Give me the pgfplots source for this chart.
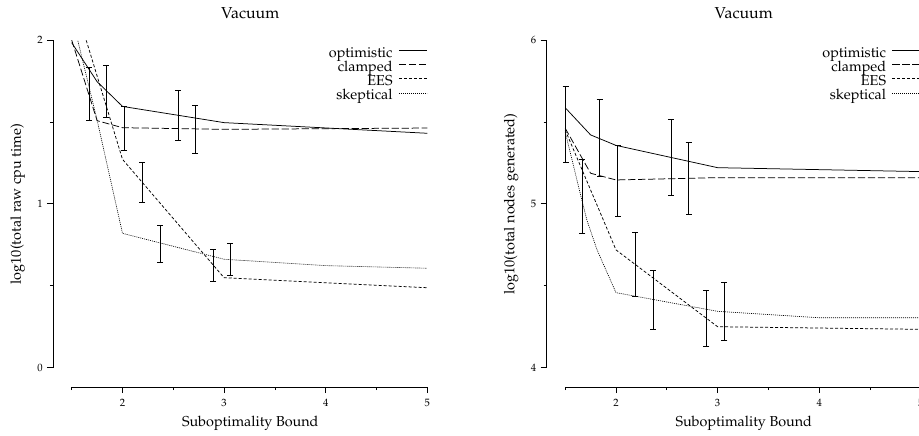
\documentclass[border=0pt]{standalone}
\usepackage[T1]{fontenc}
\usepackage{mathpazo}
\usepackage{pgfplots}
\pgfplotsset{compat=1.18}
\usetikzlibrary{calc}

% 1 px of the reference = 0.8pt here
\pgfplotsset{
  vacuum/.style={
    x=81.28pt, y=131.04pt,
    xmin=1.316, xmax=5,
    axis x line*=bottom, axis y line*=left,
    axis line style={black, line width=0.7pt},
    x axis line style={shorten <=14.96pt},
    y axis line style={shorten <=15.44pt},
    xtick={2,3,4,5}, minor xtick={1.5,2.5,3.5,4.5},
    tick align=outside, major tick length=4.8pt, minor tick length=2.4pt,
    tick style={black, line width=0.6pt},
    tick label style={font=\fontsize{8.5}{10}\selectfont},
    xticklabel style={yshift=-1.2pt},
    every axis title shift=0pt,
    title style={at={(0.527,1)}, anchor=base, yshift=17.4pt, font=\fontsize{12.7}{14}\selectfont},
    xlabel style={at={(0.527,0)}, anchor=base, yshift=-31.2pt, font=\fontsize{11.5}{14}\selectfont},
    ylabel style={at={($(axis description cs:0,0.527)+(-28.2pt,0)$)}, anchor=center, font=\fontsize{11.5}{14}\selectfont},
    legend style={at={(1,1)}, anchor=north east, yshift=-5.8pt, draw=none, fill=none,
      inner sep=0pt, outer sep=0pt, row sep=0pt, column sep=4.8pt,
      font=\fontsize{11.5}{12}\selectfont,
      nodes={inner sep=0pt, text height=7.9pt, text depth=3.3pt}},
    legend cell align=right, legend plot pos=right,
    legend image code/.code={\draw[##1] (0pt,2.8pt) -- (22.4pt,2.8pt);},
    every axis plot/.append style={black, line width=0.6pt},
  },
  optimistic/.style={black, solid, mark=none},
  clamped/.style={black, mark=none, dash pattern=on 5.8pt off 2.2pt},
  ees/.style={black, mark=none, dash pattern=on 2.4pt off 1.6pt},
  skeptical/.style={black, mark=none, dash pattern=on 0.8pt off 0.8pt, line width=0.5pt},
  bars/.style={forget plot, draw=none, mark=none,
    error bars/.cd, y dir=both, y explicit,
    error bar style={draw=black, solid, line width=0.6pt},
    error mark options={draw=black, solid, rotate=90, mark size=2.4pt, line width=0.6pt}},
}

\begin{document}
\begin{tikzpicture}
\begin{axis}[vacuum, at={(0pt,0pt)}, anchor=south west,
    ymin=-0.118, ymax=2, ytick={0,1,2}, minor ytick={0.5,1.5},
    title={Vacuum}, xlabel={Suboptimality Bound}, ylabel={log10(total raw cpu time)}]
\addplot[optimistic] coordinates {(1.5,1.984) (1.75,1.746) (2,1.595) (3,1.496) (5,1.431)};
\addlegendentry{optimistic}
\addplot[clamped] coordinates {(1.5,2.0) (1.75,1.508) (2,1.465) (3,1.455) (5,1.463)};
\addlegendentry{clamped}
\addplot[ees] coordinates {(1.5,2.29) (2,1.272) (3,0.549) (5,0.488)};
\addlegendentry{EES}
\addplot[skeptical] coordinates {(1.5,2.15) (1.75,1.512) (2,0.82) (3,0.662) (4,0.623) (5,0.607)};
\addlegendentry{skeptical}
\addplot[bars] coordinates {
  (1.672,1.674) +- (0,0.162)
  (1.840,1.687) +- (0,0.156)
  (2.017,1.461) +- (0,0.132)
  (2.194,1.134) +- (0,0.122)
  (2.371,0.758) +- (0,0.113)
  (2.548,1.540) +- (0,0.150)
  (2.716,1.455) +- (0,0.144)
  (2.893,0.627) +- (0,0.098)
  (3.060,0.661) +- (0,0.095)
};
\end{axis}

\begin{axis}[vacuum, at={(394.8pt,0pt)}, anchor=south west,
    ymin=3.882, ymax=6, ytick={4,5,6}, minor ytick={4.5,5.5},
    title={Vacuum}, xlabel={Suboptimality Bound}, ylabel={log10(total nodes generated)}]
\addplot[optimistic] coordinates {(1.5,5.587) (1.75,5.421) (2,5.357) (3,5.221) (5,5.197)};
\addlegendentry{optimistic}
\addplot[clamped] coordinates {(1.5,5.462) (1.75,5.187) (2,5.146) (3,5.16) (5,5.16)};
\addlegendentry{clamped}
\addplot[ees] coordinates {(1.5,5.451) (2,4.719) (3,4.25) (5,4.234)};
\addlegendentry{EES}
\addplot[skeptical] coordinates {(1.5,5.44) (1.665,5.02) (1.714,4.90) (1.813,4.72) (2,4.458) (3,4.344) (4,4.305) (5,4.305)};
\addlegendentry{skeptical}
\addplot[bars] coordinates {
  (1.504,5.485) +- (0,0.231)
  (1.668,5.045) +- (0,0.224)
  (1.839,5.403) +- (0,0.237)
  (2.016,5.143) +- (0,0.217)
  (2.190,4.631) +- (0,0.193)
  (2.364,4.416) +- (0,0.180)
  (2.541,5.284) +- (0,0.234)
  (2.715,5.156) +- (0,0.218)
  (2.889,4.303) +- (0,0.171)
  (3.066,4.344) +- (0,0.175)
};
\end{axis}
\pgfresetboundingbox
\path[use as bounding box] (-42.4pt,-38.4pt) rectangle (692.8pt,309.6pt);
\end{tikzpicture}
\end{document}
